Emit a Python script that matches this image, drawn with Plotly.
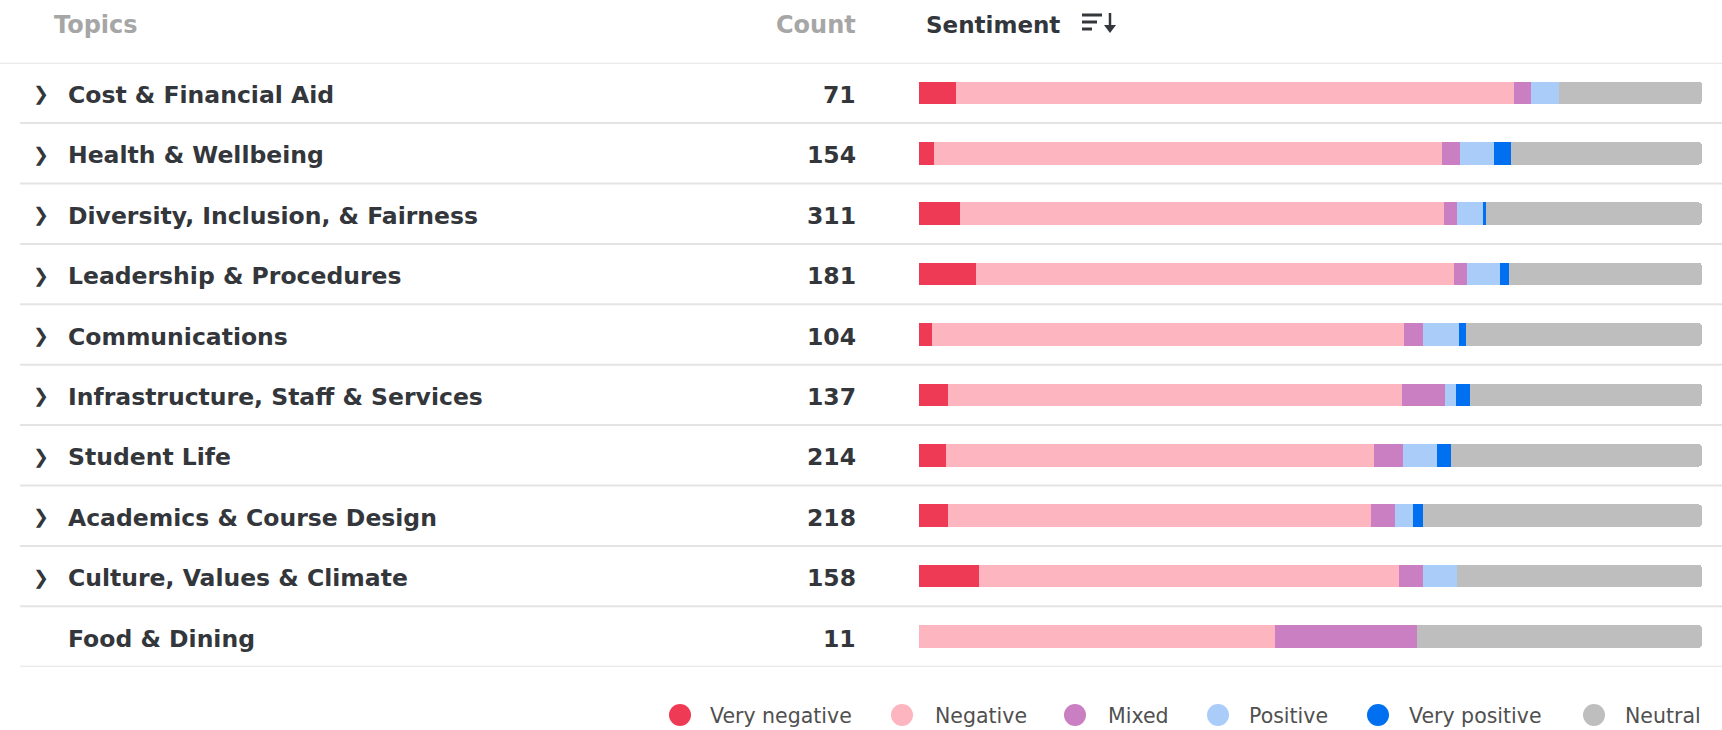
import plotly.graph_objects as go

W, H = 1722, 730

topics = ["Cost & Financial Aid", "Health & Wellbeing", "Diversity, Inclusion, & Fairness",
          "Leadership & Procedures", "Communications", "Infrastructure, Staff & Services",
          "Student Life", "Academics & Course Design", "Culture, Values & Climate", "Food & Dining"]
counts = [71, 154, 311, 181, 104, 137, 214, 218, 158, 11]
expandable = [True, True, True, True, True, True, True, True, True, False]

sentiments = ["Very negative", "Negative", "Mixed", "Positive", "Very positive", "Neutral"]
colors = ["#EF3A55", "#FDB5C0", "#C97FC1", "#A9CCF9", "#0070F0", "#BEBEBE"]

very_negative = [4.7, 1.9, 5.2, 7.3, 1.6, 3.7, 3.4, 3.7, 7.6, 0.0]
negative = [71.3, 64.8, 61.8, 61.0, 60.4, 58.1, 54.7, 54.0, 53.7, 45.5]
mixed = [2.1, 2.3, 1.7, 1.7, 2.4, 5.5, 3.6, 3.1, 3.1, 18.2]
positive = [3.6, 4.4, 3.3, 4.2, 4.6, 1.3, 4.4, 2.3, 4.3, 0.0]
very_positive = [0.0, 2.1, 0.3, 1.1, 0.9, 1.8, 1.8, 1.3, 0.0, 0.0]
neutral = [18.3, 24.4, 27.6, 24.7, 30.1, 29.7, 32.0, 35.6, 31.3, 36.4]

series = [very_negative, negative, mixed, positive, very_positive, neutral]
totals = [sum(s[i] for s in series) for i in range(len(topics))]
shares = [[s[i] / totals[i] * 100 for i in range(len(topics))] for s in series]

FONT = "DejaVu Sans"
DARK = "#33363b"
GRAY = "#a6a6a6"


def px(x):
    return x / W


def py(y):
    return 1 - y / H


fig = go.Figure()
for name, col, vals in zip(sentiments, colors, shares):
    fig.add_trace(go.Bar(
        y=topics, x=vals, orientation="h", name=name,
        marker=dict(color=col, line=dict(width=0)),
        width=0.375, showlegend=False,
        hovertemplate="%{y}<br>" + name + ": %{x:.1f}%<extra></extra>",
    ))

annotations = []
shapes = []

# header
annotations.append(dict(text="Topics", x=px(52), y=py(25), xref="paper", yref="paper",
                        xanchor="left", yanchor="middle", showarrow=False,
                        font=dict(family=FONT, size=24, color=GRAY, weight="bold")))
annotations.append(dict(text="Count", x=px(858), y=py(25), xref="paper", yref="paper",
                        xanchor="right", yanchor="middle", showarrow=False,
                        font=dict(family=FONT, size=24, color=GRAY, weight="bold")))
annotations.append(dict(text="Sentiment", x=px(924), y=py(25), xref="paper", yref="paper",
                        xanchor="left", yanchor="middle", showarrow=False,
                        font=dict(family=FONT, size=23, color=DARK, weight="bold")))

# sort icon
for (x0, x1, yy) in [(1082, 1102, 15), (1082, 1097, 22), (1082, 1092, 29)]:
    shapes.append(dict(type="line", xref="paper", yref="paper", x0=px(x0), x1=px(x1),
                       y0=py(yy), y1=py(yy), line=dict(color=DARK, width=3)))
shapes.append(dict(type="line", xref="paper", yref="paper", x0=px(1110), x1=px(1110),
                   y0=py(13), y1=py(28), line=dict(color=DARK, width=2.5)))
shapes.append(dict(type="path", xref="paper", yref="paper",
                   path=f"M {px(1104)} {py(25)} L {px(1116)} {py(25)} L {px(1110)} {py(33)} Z",
                   fillcolor=DARK, line=dict(color=DARK, width=0)))

# header separator
shapes.append(dict(type="line", xref="paper", yref="y", x0=0, x1=1, y0=-0.5, y1=-0.5,
                   line=dict(color="#e4e4e4", width=2)))

# rows
for i, (t, c, ex) in enumerate(zip(topics, counts, expandable)):
    if ex:
        annotations.append(dict(text="❯", x=px(41), y=t, xref="paper", yref="y",
                                xanchor="center", yanchor="middle", showarrow=False,
                                font=dict(family="DejaVu Sans", size=19, color=DARK),
                                yshift=-1))
    annotations.append(dict(text=t, x=px(66), y=t, xref="paper", yref="y",
                            xanchor="left", yanchor="middle", showarrow=False, yshift=-2,
                            font=dict(family=FONT, size=23.5, color=DARK, weight="bold")))
    annotations.append(dict(text=str(c), x=px(858), y=t, xref="paper", yref="y",
                            xanchor="right", yanchor="middle", showarrow=False, yshift=-2,
                            font=dict(family=FONT, size=23.5, color=DARK, weight="bold")))
    shapes.append(dict(type="line", xref="paper", yref="y", x0=px(20), x1=1,
                       y0=i + 0.5, y1=i + 0.5, line=dict(color="#e4e4e4", width=2)))

# legend (manual, circle markers)
legend_circle_x = [680, 902, 1075, 1218, 1378, 1594]
legend_text_x = [708, 933, 1106, 1247, 1407, 1623]
LY = 715
for name, col, cx, tx in zip(sentiments, colors, legend_circle_x, legend_text_x):
    shapes.append(dict(type="circle", xref="paper", yref="paper",
                       x0=px(cx - 11), x1=px(cx + 11), y0=py(LY + 11), y1=py(LY - 11),
                       fillcolor=col, line=dict(width=0)))
    annotations.append(dict(text=name, x=px(tx), y=py(LY + 1), xref="paper", yref="paper",
                            xanchor="left", yanchor="middle", showarrow=False,
                            font=dict(family=FONT, size=20.5, color="#505050")))

fig.update_layout(
    width=W, height=H,
    margin=dict(l=0, r=0, t=0, b=0),
    paper_bgcolor="white", plot_bgcolor="white",
    barmode="stack", barcornerradius=4,
    xaxis=dict(domain=[px(919), px(1702)], range=[0, 100], visible=False, fixedrange=True),
    yaxis=dict(domain=[py(666.7), py(62.7)], range=[9.5, -0.5], visible=False,
               categoryorder="array", categoryarray=topics, fixedrange=True),
    annotations=annotations, shapes=shapes,
    showlegend=False,
)

fig.write_html("out.html", config={"displayModeBar": False},
               post_script="document.body.style.margin='0';document.body.style.overflow='hidden';")
